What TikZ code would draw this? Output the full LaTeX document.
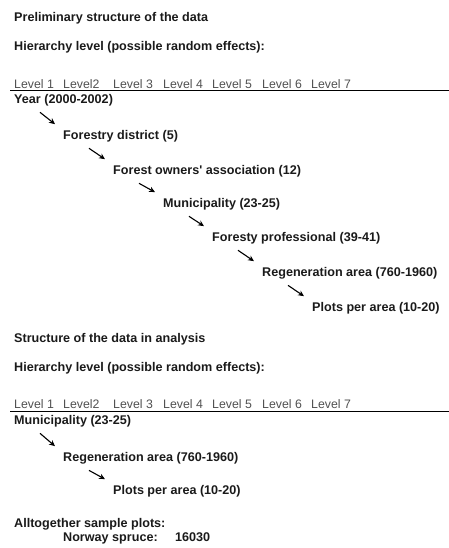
\documentclass[tikz,border=0pt]{standalone}
\usepackage{fontspec}
\setmainfont{Liberation Sans}[Ligatures=TeXOff]
\usetikzlibrary{arrows.meta}
\definecolor{lvlgray}{HTML}{505050}
\definecolor{txt}{HTML}{1A1A1A}
\tikzset{
  lbl/.style={anchor=base west,inner sep=0pt,font=\fontsize{12.6}{14}\selectfont\bfseries,text=txt},
  lvl/.style={anchor=base west,inner sep=0pt,font=\fontsize{12.3}{14}\selectfont,text=lvlgray},
  arr/.style={line width=1.1pt,-{Stealth[length=6pt,width=5.5pt]}},
  rule/.style={line width=1pt}
}
\begin{document}
\begin{tikzpicture}[x=1pt,y=-1pt]
\useasboundingbox (0,0) rectangle (449,548);
% ---- section 1
\node[lbl] (t1) at (14,21.5) {Preliminary structure of the data};
\node[lbl] (h1) at (14,50.5) {Hierarchy level (possible random effects):};
\node[lvl] (a1) at (14,88.5) {Level 1};
\node[lvl] (a2) at (63,88.5) {Level2};
\node[lvl] (a3) at (113,88.5) {Level 3};
\node[lvl] (a4) at (163,88.5) {Level 4};
\node[lvl] (a5) at (212,88.5) {Level 5};
\node[lvl] (a6) at (262,88.5) {Level 6};
\node[lvl] (a7) at (311,88.5) {Level 7};
\coordinate (r1a) at (10,91);
\coordinate (r1b) at (449,91);
\draw[rule] (r1a) -- (r1b);
\node[lbl] (y) at (14,103.5) {Year (2000-2002)};
\node[lbl] (fd) at (63,139.5) {Forestry district (5)};
\node[lbl] (foa) at (113,174.5) {Forest owners' association (12)};
\node[lbl] (mu) at (163,207.5) {Municipality (23-25)};
\node[lbl] (fp) at (212,241.5) {Foresty professional (39-41)};
\node[lbl] (ra) at (262,276.5) {Regeneration area (760-1960)};
\node[lbl] (pl) at (312,311.5) {Plots per area (10-20)};
\foreach \p/\q in {y/fd,fd/foa,foa/mu,mu/fp,fp/ra,ra/pl}{
  \draw[arr] ([xshift=26pt,yshift=-6pt]\p.south west) -- ([xshift=-8pt,yshift=6pt]\q.north west);
}
% ---- section 2
\node[lbl] (t2) at (14,342.5) {Structure of the data in analysis};
\node[lbl] (h2) at (14,371.5) {Hierarchy level (possible random effects):};
\node[lvl] (b1) at (14,408.5) {Level 1};
\node[lvl] (b2) at (63,408.5) {Level2};
\node[lvl] (b3) at (113,408.5) {Level 3};
\node[lvl] (b4) at (163,408.5) {Level 4};
\node[lvl] (b5) at (212,408.5) {Level 5};
\node[lvl] (b6) at (262,408.5) {Level 6};
\node[lvl] (b7) at (311,408.5) {Level 7};
\coordinate (r2a) at (10,411);
\coordinate (r2b) at (449,411);
\draw[rule] (r2a) -- (r2b);
\node[lbl] (mu2) at (14,424.5) {Municipality (23-25)};
\node[lbl] (ra2) at (63,461.5) {Regeneration area (760-1960)};
\node[lbl] (pl2) at (113,494.5) {Plots per area (10-20)};
\foreach \p/\q in {mu2/ra2,ra2/pl2}{
  \draw[arr] ([xshift=26pt,yshift=-6pt]\p.south west) -- ([xshift=-8pt,yshift=6pt]\q.north west);
}
\node[lbl] (al) at (14,527.5) {Alltogether sample plots:};
\node[lbl] (ns) at (63,541.5) {Norway spruce:};
\node[lbl] (nv) at (175,541.5) {16030};
\end{tikzpicture}
\end{document}
